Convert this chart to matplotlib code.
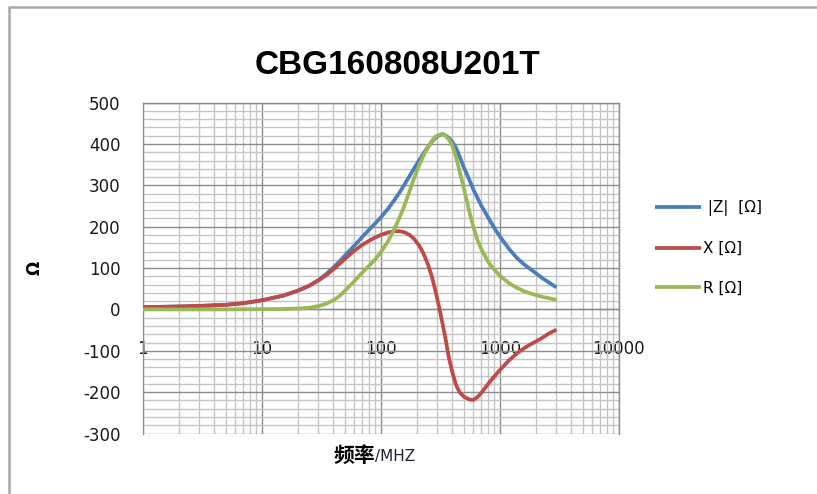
import matplotlib
matplotlib.use("Agg")
import matplotlib.pyplot as plt
from matplotlib.patches import Rectangle
from matplotlib.ticker import LogLocator, MultipleLocator, FixedLocator, FixedFormatter, NullFormatter

plt.rcParams["axes.unicode_minus"] = False

# ---- data ----
freq_mhz = [1, 2, 3, 5, 7, 10, 15, 20, 25, 30, 35, 40, 45, 50, 60, 70, 80, 90, 100,
            115, 130, 145, 160, 175, 190, 210, 230, 250, 270, 290, 310, 330, 350, 375,
            400, 430, 460, 500, 530, 560, 600, 650, 700, 800, 900, 1000, 1200, 1400,
            1600, 1800, 2000, 2300, 2600, 3000]
z_ohm = [5.5, 7, 8.5, 11, 15, 22, 33, 45, 57, 71, 86, 101, 116, 130, 154, 175, 193, 208, 222,
         243, 264, 284, 304, 323, 340, 360, 378, 393, 406, 415, 421, 424, 421, 414,
         405, 390, 370, 343, 327, 311, 290, 270, 251, 222, 197, 177, 146, 124,
         109, 98, 88, 75, 65, 53]
x_ohm = [5.5, 7, 8.5, 11, 15, 22, 33, 45, 57, 70, 83, 97, 110, 122, 142, 156, 166, 174, 180,
         186, 189, 189, 186, 180, 171, 155, 134, 108, 78, 42, 5, -33, -70, -118,
         -152, -183, -200, -211, -215, -218, -219, -212, -202, -180, -162, -147, -123, -106,
         -94, -85, -78, -68, -58, -49]
r_ohm = [0, 0, 0, 0, 0.3, 0.5, 1, 2, 4, 8, 14, 22, 32, 45, 68, 89, 106, 121, 138,
         164, 194, 224, 255, 286, 316, 348, 373, 392, 408, 418, 422, 424, 420, 410,
         396, 368, 334, 293, 262, 232, 200, 168, 146, 115, 96, 82, 63, 52,
         44, 39, 35, 30, 27, 23]

series_labels = [" |Z|  [\u03a9]", "X [\u03a9]", "R [\u03a9]"]
series_colors = ["#4A7EBB", "#BE4B48", "#98B954"]

title = "CBG160808U201T"
x_ticks = [1, 10, 100, 1000, 10000]
x_tick_labels = ["1", "10", "100", "1000", "10000"]
y_ticks = [-300, -200, -100, 0, 100, 200, 300, 400, 500]

W, H = 817, 494
fig = plt.figure(figsize=(W / 100, H / 100), dpi=100)
fig.patch.set_facecolor("white")

# outer chart border
fig.add_artist(Rectangle((8.5 / W, -0.2), 1.2, 1.2 - 7.5 / H, transform=fig.transFigure,
                         fill=False, edgecolor="#a6a6a6", lw=1.8))

left, right, top, bottom = 142.7, 618.7, 102.6, 433.5
ax = fig.add_axes([left / W, 1 - bottom / H, (right - left) / W, (bottom - top) / H])

for vals, lab, col in zip([z_ohm, x_ohm, r_ohm], series_labels, series_colors):
    ax.plot(freq_mhz, vals, color=col, lw=2.7, label=lab, solid_joinstyle="round",
            solid_capstyle="butt", zorder=3)

ax.set_xscale("log")
ax.set_xlim(1, 10000)
ax.set_ylim(-300, 500)

ax.xaxis.set_major_locator(FixedLocator(x_ticks))
ax.xaxis.set_major_formatter(FixedFormatter(x_tick_labels))
ax.xaxis.set_minor_locator(LogLocator(base=10, subs=range(2, 10), numticks=20))
ax.xaxis.set_minor_formatter(NullFormatter())
ax.yaxis.set_major_locator(FixedLocator(y_ticks))
ax.yaxis.set_minor_locator(MultipleLocator(20))

ax.grid(which="major", color="#8c8c8c", lw=1.0, zorder=1)
ax.grid(which="minor", color="#c4c4c4", lw=1.0, zorder=0)
ax.set_axisbelow(True)

for s in ["top", "right"]:
    ax.spines[s].set_color("#8c8c8c")
    ax.spines[s].set_linewidth(1.0)
ax.spines["left"].set_color("#8c8c8c")
ax.spines["bottom"].set_position(("data", 0))
ax.spines["bottom"].set_color("#8c8c8c")
ax.spines["bottom"].set_linewidth(1.0)

ax.tick_params(axis="both", which="both", length=0)
ax.tick_params(axis="y", labelsize=12, pad=16, labelcolor="#1a1a1a")
ax.tick_params(axis="x", labelsize=12, pad=22, labelcolor="#1a1a1a")
for t in ax.get_xticklabels() + ax.get_yticklabels():
    t.set_fontfamily("DejaVu Sans")

# title
fig.text(397 / W, 1 - 66 / H, title, ha="center", va="center", fontsize=24,
         fontweight="bold", family="Liberation Sans")

# y label
fig.text(35 / W, 1 - 268 / H, "\u03a9", rotation=90, ha="center", va="center",
         fontsize=12, fontweight="bold", family="DejaVu Sans")

# x label: bold CJK + regular unit
fig.text(375 / W, 1 - 455 / H, "频率", ha="right", va="center", fontsize=15,
         fontweight="bold", family=["Noto Sans CJK SC", "DejaVu Sans"])
fig.text(375 / W, 1 - 456 / H, "/MHZ", ha="left", va="center", fontsize=11,
         color="#1f1f3a", family="DejaVu Sans")

# legend
leg = ax.legend(loc="center left", bbox_to_anchor=(655 / W, 1 - 248 / H),
                bbox_transform=fig.transFigure, frameon=False, fontsize=11,
                handlelength=3.0, handletextpad=0.15, labelspacing=1.62,
                borderaxespad=0, borderpad=0)
for line in leg.get_lines():
    line.set_linewidth(2.7)

fig.savefig("out.png", dpi=100)
